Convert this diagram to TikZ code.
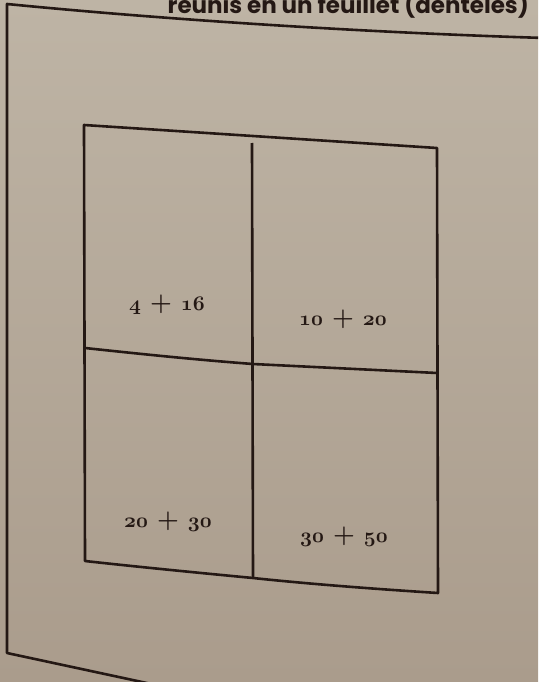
\documentclass[tikz,border=0pt]{standalone}
\usepackage{fontspec}
\newfontfamily\capfont{Poppins}
\definecolor{papertop}{RGB}{190,180,165}
\definecolor{paperbot}{RGB}{170,156,140}
\definecolor{ink}{RGB}{36,24,20}
\newcommand{\osn}[1]{{\usefont{OML}{cmm}{b}{it}#1}}
\newcommand{\summ}[2]{\osn{#1}\hspace{9pt}{\bfseries\fontsize{25}{26}\selectfont +}\hspace{9pt}\osn{#2}}
\tikzset{
  frame/.style={draw=ink, line width=2.6pt, line join=round},
  sumlabel/.style={text=ink, font=\fontsize{22}{26}\selectfont, inner sep=0pt},
}
\begin{document}
\begin{tikzpicture}[x=1pt,y=-1pt]
\useasboundingbox (0,0) rectangle (538,682);
\clip (0,0) rectangle (538,682);
\shade[top color=papertop, bottom color=paperbot] (0,0) rectangle (538,682);
% caption (cut at the top of the photo)
\node[anchor=base east, text=ink, inner sep=0pt, font=\capfont\bfseries\fontsize{23}{26}\selectfont] (cap) at (529,14) {réunis en un feuillet (dentelés)};
% outer sheet
\coordinate (otl) at (7,4);
\coordinate (otr) at (545,38);
\coordinate (obl) at (7,653);
\coordinate (obr) at (170,688);
\draw[frame] (otr) .. controls (380,33) and (180,21) .. (otl) -- (obl) -- (obr);
% inner block
\coordinate (itl) at (84,125);
\coordinate (itr) at (437,148);
\coordinate (ibr) at (438,593);
\coordinate (ibl) at (85,561);
\coordinate (ibm) at (253,578);
\coordinate (itm) at (252,143);
\coordinate (iml) at (85,348);
\coordinate (imm) at (253,364);
\coordinate (imr) at (437,373);
\draw[frame] (itl) -- (itr) -- (ibr) .. controls (360,588) and (300,583) .. (ibm) .. controls (190,572) and (130,566) .. (ibl) -- cycle;
\draw[frame] (itm) -- (ibm);
\draw[frame] (iml) .. controls (150,355) and (200,360) .. (imm) -- (imr);
% labels
\node[sumlabel] (s1) at (167,305) {\summ{4}{16}};
\node[sumlabel] (s2) at (343,319) {\summ{10}{20}};
\node[sumlabel] (s3) at (168,522) {\summ{20}{30}};
\node[sumlabel] (s4) at (344,537) {\summ{30}{50}};
\end{tikzpicture}
\end{document}
